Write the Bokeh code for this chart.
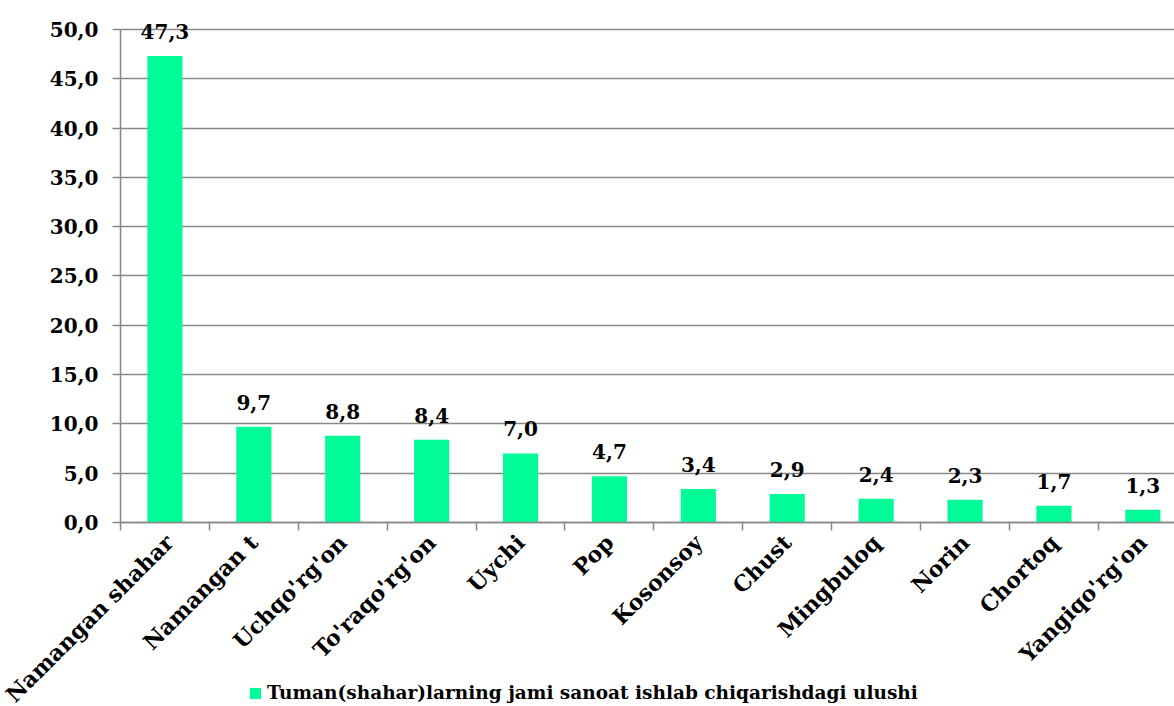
import math
from bokeh.plotting import figure
from bokeh.models import (ColumnDataSource, Range1d, FixedTicker, LabelSet,
                          Legend, LegendItem)
from bokeh.core.properties import value
from bokeh.embed import file_html
from bokeh.resources import INLINE

categories = ["Namangan shahar", "Namangan t", "Uchqo'rg'on", "To'raqo'rg'on",
              "Uychi", "Pop", "Kosonsoy", "Chust", "Mingbuloq", "Norin",
              "Chortoq", "Yangiqo'rg'on"]
values = [47.3, 9.7, 8.8, 8.4, 7.0, 4.7, 3.4, 2.9, 2.4, 2.3, 1.7, 1.3]
y_ticks = [0, 5, 10, 15, 20, 25, 30, 35, 40, 45, 50]
series_name = "Tuman(shahar)larning jami sanoat ishlab chiqarishdagi ulushi"

FONT = "DejaVu Serif"
BAR = "#00FB97"
GRID = "#878787"

x_centers = [i + 0.5 for i in range(len(categories))]
x_edges = list(range(len(categories) + 1))
labels = [f"{v:.1f}".replace(".", ",") for v in values]
X_END = 11.856

src = ColumnDataSource(dict(x=x_centers, top=values, lab=labels))

p = figure(width=1174, height=706, output_backend="svg", toolbar_location=None,
           x_range=Range1d(-1.3498, X_END), y_range=Range1d(-18.66, 52.94),
           min_border_left=0, min_border_right=0, min_border_top=0,
           min_border_bottom=0)
p.outline_line_color = None
p.background_fill_color = "white"

r = p.vbar(x="x", top="top", width=0.395, bottom=0, source=src,
           fill_color=BAR, line_color=None)

# y axis drawn at x=0
p.yaxis.fixed_location = 0
p.yaxis.ticker = FixedTicker(ticks=y_ticks)
p.yaxis.bounds = (0, 50)
p.yaxis.major_label_overrides = {t: f"{t:.1f}".replace(".", ",") for t in y_ticks}
p.yaxis.minor_tick_line_color = None
p.yaxis.major_tick_in = 0
p.yaxis.major_tick_out = 8
p.yaxis.major_tick_line_color = GRID
p.yaxis.major_tick_line_width = 1.5
p.yaxis.axis_line_color = GRID
p.yaxis.axis_line_width = 1.5
p.yaxis.major_label_text_font = FONT
p.yaxis.major_label_text_font_style = "bold"
p.yaxis.major_label_text_font_size = "20px"
p.yaxis.major_label_text_color = "black"
p.yaxis.major_label_standoff = 14

# x axis drawn at y=0: labels at centers, tick marks at category boundaries
p.xaxis.fixed_location = 0
p.xaxis.bounds = (0, X_END)
p.xaxis.ticker = FixedTicker(ticks=x_centers, minor_ticks=x_edges)
p.xaxis.major_label_overrides = {c: n for c, n in zip(x_centers, categories)}
p.xaxis.major_tick_in = 0
p.xaxis.major_tick_out = 0
p.xaxis.minor_tick_in = 0
p.xaxis.minor_tick_out = 8
p.xaxis.minor_tick_line_color = GRID
p.xaxis.minor_tick_line_width = 1.5
p.xaxis.axis_line_color = GRID
p.xaxis.axis_line_width = 1.5
p.xaxis.major_label_orientation = math.pi / 4
p.xaxis.major_label_text_font = FONT
p.xaxis.major_label_text_font_style = "bold"
p.xaxis.major_label_text_font_size = "22px"
p.xaxis.major_label_text_color = "black"
p.xaxis.major_label_standoff = 8

p.xgrid.grid_line_color = None
p.ygrid.ticker = FixedTicker(ticks=y_ticks)
p.ygrid.bounds = (0, 50)
p.ygrid.cross_bounds = (0, X_END)
p.ygrid.grid_line_color = GRID
p.ygrid.grid_line_width = 1.5

ls = LabelSet(x="x", y="top", text="lab", source=src, text_align="center",
              text_baseline="alphabetic", y_offset=17, text_font=value(FONT),
              text_font_style="bold", text_font_size="20px", text_color="black")
p.add_layout(ls)

legend = Legend(items=[LegendItem(label=series_name, renderers=[r])],
                location=(248, 3), orientation="horizontal",
                background_fill_alpha=0, border_line_color=None,
                label_text_font=FONT, label_text_font_style="bold",
                label_text_font_size="18.5px", label_text_color="black",
                glyph_width=14, glyph_height=14,
                label_standoff=5, padding=0, margin=0)
p.add_layout(legend, "center")

open("out.html", "w").write(file_html(p, INLINE))
